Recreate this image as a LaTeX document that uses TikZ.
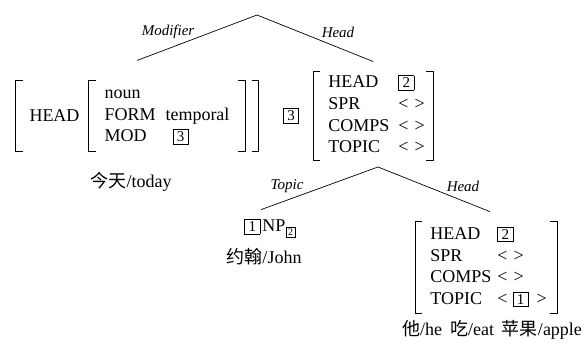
\documentclass[tikz,border=0pt]{standalone}
\usepackage{fontspec}
\setmainfont{Liberation Serif}
\newfontfamily\cjk{Noto Sans CJK SC}
\usetikzlibrary{fit}
\newcommand\bx[1]{{\setlength\fboxsep{2pt}\setlength\fboxrule{0.6pt}\framebox[16pt]{\fontsize{15}{15}\selectfont#1}}}
\newcommand\sbx[1]{{\setlength\fboxsep{1pt}\setlength\fboxrule{0.5pt}\framebox[10pt]{\fontsize{10}{10}\selectfont#1}}}
\newcommand\nil{<\hspace{6pt}>}
\newcommand\avmbrk[1]{%
  \draw[brk] ([xshift=7pt]#1.north west) -- (#1.north west) -- (#1.south west) -- ([xshift=7pt]#1.south west);
  \draw[brk] ([xshift=-7pt]#1.north east) -- (#1.north east) -- (#1.south east) -- ([xshift=-7pt]#1.south east);}

\begin{document}
\begin{tikzpicture}[x=1pt, y=-1pt, line width=0.7pt,
    every node/.style={inner sep=0pt, font=\fontsize{18}{21.6}\selectfont},
    lbl/.style={font=\fontsize{15}{15}\selectfont\itshape},
    brk/.style={line width=0.8pt}]
  \useasboundingbox (0,0) rectangle (584,345);
  % upper tree
  \coordinate (top) at (257,15);
  \node (hd) at (54.5,116) {HEAD};
  \node[inner xsep=15.5pt, inner ysep=2.5pt] (feat) at (167,116)
    {\begin{tabular}{@{}l@{\hspace{10pt}}l@{}}noun&\\FORM&temporal\\MOD&\hspace{7pt}\bx{3}\end{tabular}};
  \node[fit=(hd)(feat), inner xsep=13pt] (lavm) {};
  \node (today) at (131,182) {{\cjk 今天}/today};
  \node (tag) at (291,116) {\bx{3}};
  \node[anchor=west, inner xsep=8pt, inner ysep=1pt] (mavm) at (313,116)
    {\begin{tabular}{@{\hspace{7pt}}l@{\hspace{9pt}}l@{}}HEAD&\bx{2}\\SPR&\nil\\COMPS&\nil\\TOPIC&\nil\end{tabular}};
  \node[lbl] (modlbl) at (168,32) {Modifier};
  \node[lbl] (headlbl) at (338,32) {Head};
  \draw (top) -- ([yshift=20pt]lavm.north);
  \draw (top) -- ([yshift=10pt]mavm.north);
  % lower tree
  \coordinate (mid) at (378,167);
  \node (np) at (270,228) {\bx{1}\hspace{2pt}NP\raisebox{-4pt}{\sbx{2}}};
  \node (john) at (264,257) {{\cjk 约翰}/John};
  \node[anchor=west, inner xsep=8pt, inner ysep=2.3pt] (ravm) at (415,267.5)
    {\begin{tabular}{@{\hspace{7pt}}l@{\hspace{6pt}}l@{\hspace{2pt}}}HEAD&\bx{2}\\SPR&\nil\\COMPS&\nil\\TOPIC&<\hspace{5pt}\bx{1}\hspace{8pt}>\end{tabular}};
  \node (words) at (492,330) {{\cjk 他}/he\hspace{8pt}{\cjk 吃}/eat\hspace{8pt}{\cjk 苹果}/apple};
  \node[lbl] (topiclbl) at (287,186) {Topic};
  \node[lbl] (headlbl2) at (463,186) {Head};
  \draw (mid) -- ([xshift=-9pt,yshift=9pt]np.north);
  \draw (mid) -- ([xshift=4pt,yshift=10pt]ravm.north);
  \foreach \n in {feat,lavm,mavm,ravm} \avmbrk{\n};
\end{tikzpicture}
\end{document}
